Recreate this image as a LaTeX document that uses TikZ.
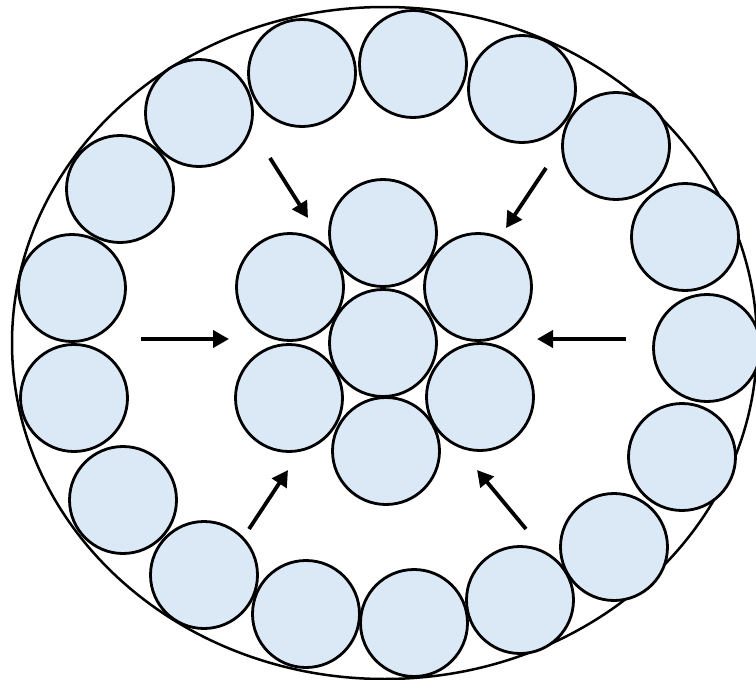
\documentclass[tikz,border=0pt]{standalone}
\usepackage{tikz}
\usetikzlibrary{arrows.meta}
\definecolor{fiberblue}{RGB}{219, 233, 247}

\begin{document}
\begin{tikzpicture}[
    x=1pt, y=-1pt,
    fiber/.style={circle, draw=black, line width=2.8pt, fill=fiberblue,
        minimum size=107pt, inner sep=0pt},
    push/.style={line width=3.8pt, -{Triangle[length=16pt, width=17pt]}}
]
\useasboundingbox (0,0) rectangle (756,680);

% Outer sheath
\draw[line width=2.5pt] (384.5,343) ellipse (372.5 and 336);

% Outer ring of fibres
\foreach \x/\y [count=\i] in {413/64, 522/89, 616/146, 685/237, 707/348,
    682/457, 614/547, 520/600, 414/623, 306/614, 204/575, 123/500,
    74/398, 72/288, 120/189, 199/113, 302/73} {
    \node[fiber] (o\i) at (\x,\y) {};
}

% Inner bundle
\node[fiber] (i1) at (383,233) {};
\node[fiber] (i2) at (290,287) {};
\node[fiber] (i3) at (478,287) {};
\node[fiber] (i4) at (383,343) {};
\node[fiber] (i5) at (289,398) {};
\node[fiber] (i6) at (480,397) {};
\node[fiber] (i7) at (386,451) {};

% Compression arrows
\coordinate (a1s) at (270,158); \coordinate (a1e) at (308,218);
\coordinate (a2s) at (546,168); \coordinate (a2e) at (506,228);
\coordinate (a3s) at (141,339); \coordinate (a3e) at (229,339);
\coordinate (a4s) at (626,339); \coordinate (a4e) at (537,339);
\coordinate (a5s) at (249,529); \coordinate (a5e) at (288,470);
\coordinate (a6s) at (526,529); \coordinate (a6e) at (477,470);
\foreach \k in {1,...,6} {
    \draw[push] (a\k s) -- (a\k e);
}

\end{tikzpicture}
\end{document}
